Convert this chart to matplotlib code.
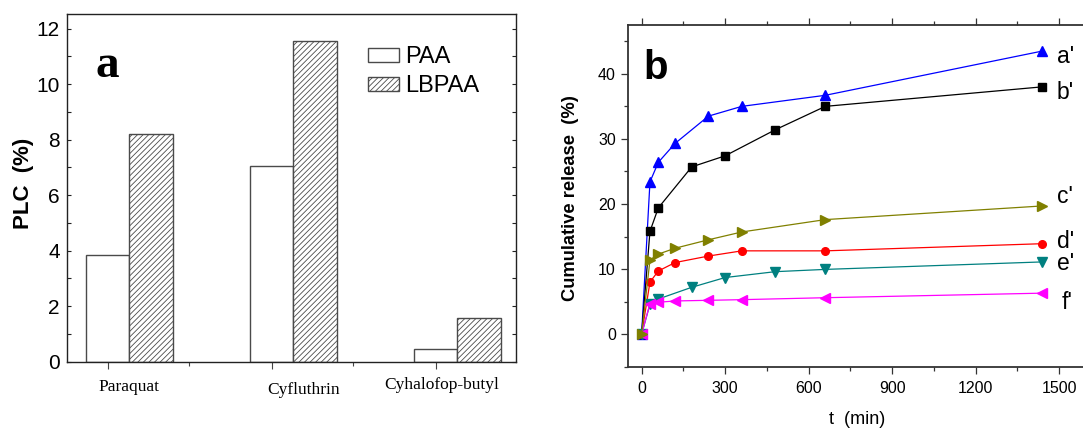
import matplotlib
matplotlib.use("Agg")
import matplotlib.pyplot as plt
import matplotlib.transforms as mtransforms
from matplotlib.ticker import MultipleLocator, FixedLocator, NullFormatter
import numpy as np

plt.rcParams['font.family'] = ['Liberation Sans', 'DejaVu Sans']
plt.rcParams['hatch.linewidth'] = 0.6

# ---------------- data: panel a ----------------
categories = ["Paraquat", "Cyfluthrin", "Cyhalofop-butyl"]
paa = [3.85, 7.05, 0.47]
lbpaa = [8.22, 11.57, 1.57]
series_names = ["PAA", "LBPAA"]

# ---------------- data: panel b ----------------
t_a = [0, 30, 60, 120, 240, 360, 660, 1440]
y_a = [0, 23.4, 26.4, 29.3, 33.5, 35.0, 36.7, 43.5]
t_b = [0, 30, 60, 180, 300, 480, 660, 1440]
y_b = [0, 15.8, 19.4, 25.7, 27.4, 31.4, 35.0, 38.0]
t_c = [0, 30, 60, 120, 240, 360, 660, 1440]
y_c = [0, 11.4, 12.3, 13.2, 14.5, 15.7, 17.6, 19.7]
t_d = [0, 30, 60, 120, 240, 360, 660, 1440]
y_d = [0, 8.0, 9.7, 11.0, 12.0, 12.8, 12.8, 13.9]
t_e = [0, 30, 60, 180, 300, 480, 660, 1440]
y_e = [0, 4.6, 5.4, 7.2, 8.7, 9.6, 9.95, 11.1]
t_f = [0, 30, 60, 120, 240, 360, 660, 1440]
y_f = [0, 4.7, 4.9, 5.1, 5.2, 5.3, 5.6, 6.3]
curve_labels = ["a'", "b'", "c'", "d'", "e'", "f'"]

fig = plt.figure(figsize=(10.83, 4.28), dpi=100)
W, H = 1083.0, 428.0

# ================= panel a =================
axa = fig.add_axes([66.7 / W, 1 - 361.7 / H, (516 - 66.7) / W, (361.7 - 14.3) / H])
x = np.arange(len(categories))
bw = 0.265
edge = '#4a4a4a'
axa.bar(x - bw / 2, paa, bw, color='white', edgecolor=edge, linewidth=1.0, label=series_names[0])
axa.bar(x + bw / 2, lbpaa, bw, color='white', edgecolor=edge, linewidth=1.0, hatch='//////',
        label=series_names[1])
axa.set_xlim(-0.382, 2.358)
axa.set_ylim(0, 12.52)
axa.yaxis.set_major_locator(MultipleLocator(2))
axa.yaxis.set_minor_locator(MultipleLocator(1))
axa.tick_params(axis='y', which='both', direction='in', length=3, width=0.8, right=True,
                labelsize=15, pad=5, colors='#222222')
axa.tick_params(axis='y', which='major', labelcolor='black')
axa.xaxis.set_major_locator(FixedLocator(list(x - 0.128)))
axa.xaxis.set_minor_locator(FixedLocator(list(x + 0.366)))
axa.xaxis.set_major_formatter(NullFormatter())
axa.tick_params(axis='x', which='major', direction='out', length=5, width=0.8, color='#444444')
axa.tick_params(axis='x', which='minor', direction='out', length=3, width=0.8, color='#444444')
for s in axa.spines.values():
    s.set_color('#222222')
    s.set_linewidth(1.0)
label_offsets = [0.0, 0.065, -0.094]
label_y = [386.7, 390.5, 385.0]
blend = mtransforms.blended_transform_factory(axa.transData, fig.transFigure)
for i, c in enumerate(categories):
    axa.text(x[i] + label_offsets[i], 1 - label_y[i] / H, c, transform=blend,
             ha='center', va='center', fontsize=12.5, family='Liberation Serif')
fig.text(24 / W, 1 - 183 / H, "PLC  (%)", rotation=90, ha='center', va='center',
         fontsize=16, fontweight='bold')
fig.text(107 / W, 1 - 66 / H, "a", ha='center', va='center',
         fontsize=34, fontweight='bold', family='Liberation Serif')
axa.legend(loc='upper left',
           bbox_to_anchor=((373 - 66.7) / (516 - 66.7) - 0.012, 1 - (46 - 14.3) / (361.7 - 14.3)),
           frameon=False, fontsize=17, handlelength=1.34, handleheight=0.54,
           handletextpad=0.25, labelspacing=0.3, borderaxespad=0, borderpad=0)

# ================= panel b =================
axb = fig.add_axes([627.7 / W, 1 - 366.7 / H, (1087 - 627.7) / W, (366.7 - 25) / H])
ms = 5.5
lw = 0.9
axb.plot(t_a, y_a, color='#0000ff', marker='^', ms=ms + 1, lw=lw)
axb.plot(t_b, y_b, color='black', marker='s', ms=ms, lw=lw)
axb.plot(t_d, y_d, color='#ff0000', marker='o', ms=ms, lw=lw)
axb.plot(t_e, y_e, color='#008080', marker='v', ms=ms + 1, lw=lw)
axb.plot(t_f, y_f, color='#ff00ff', marker='<', ms=ms + 1, lw=lw)
axb.plot(t_c, y_c, color='#808000', marker='>', ms=ms + 1, lw=lw)
axb.set_xlim(-50, 1600)
axb.set_ylim(-5, 47.5)
axb.xaxis.set_major_locator(MultipleLocator(300))
axb.xaxis.set_minor_locator(MultipleLocator(150))
axb.yaxis.set_major_locator(MultipleLocator(10))
axb.yaxis.set_minor_locator(MultipleLocator(5))
axb.tick_params(axis='both', which='major', direction='out', length=5, width=0.9,
                labelsize=11.5, pad=3.5, color='#333333')
axb.tick_params(axis='both', which='minor', direction='out', length=3, width=0.9, color='#333333')
axb.tick_params(axis='x', which='both', top=True)
axb.tick_params(axis='x', which='major', pad=5)
for s in axb.spines.values():
    s.set_color('#333333')
    s.set_linewidth(1.3)
axb.spines['right'].set_visible(False)
axb.set_xlabel("t  (min)", fontsize=13, labelpad=11)
fig.text(570.5 / W, 1 - 198 / H, "Cumulative release  (%)", rotation=90, ha='center',
         va='center', fontsize=13.2, fontweight='bold')
fig.text(656 / W, 1 - 68 / H, "b", ha='center', va='center',
         fontsize=29, fontweight='bold')
lab_x = [1492, 1492, 1492, 1492, 1492, 1510]
lab_y = [42.6, 37.1, 21.1, 14.2, 10.9, 4.9]
for lx, ly, lab in zip(lab_x, lab_y, curve_labels):
    axb.text(lx, ly, lab, ha='left', va='center', fontsize=16.5, clip_on=False)

fig.savefig("out.png", dpi=100)
